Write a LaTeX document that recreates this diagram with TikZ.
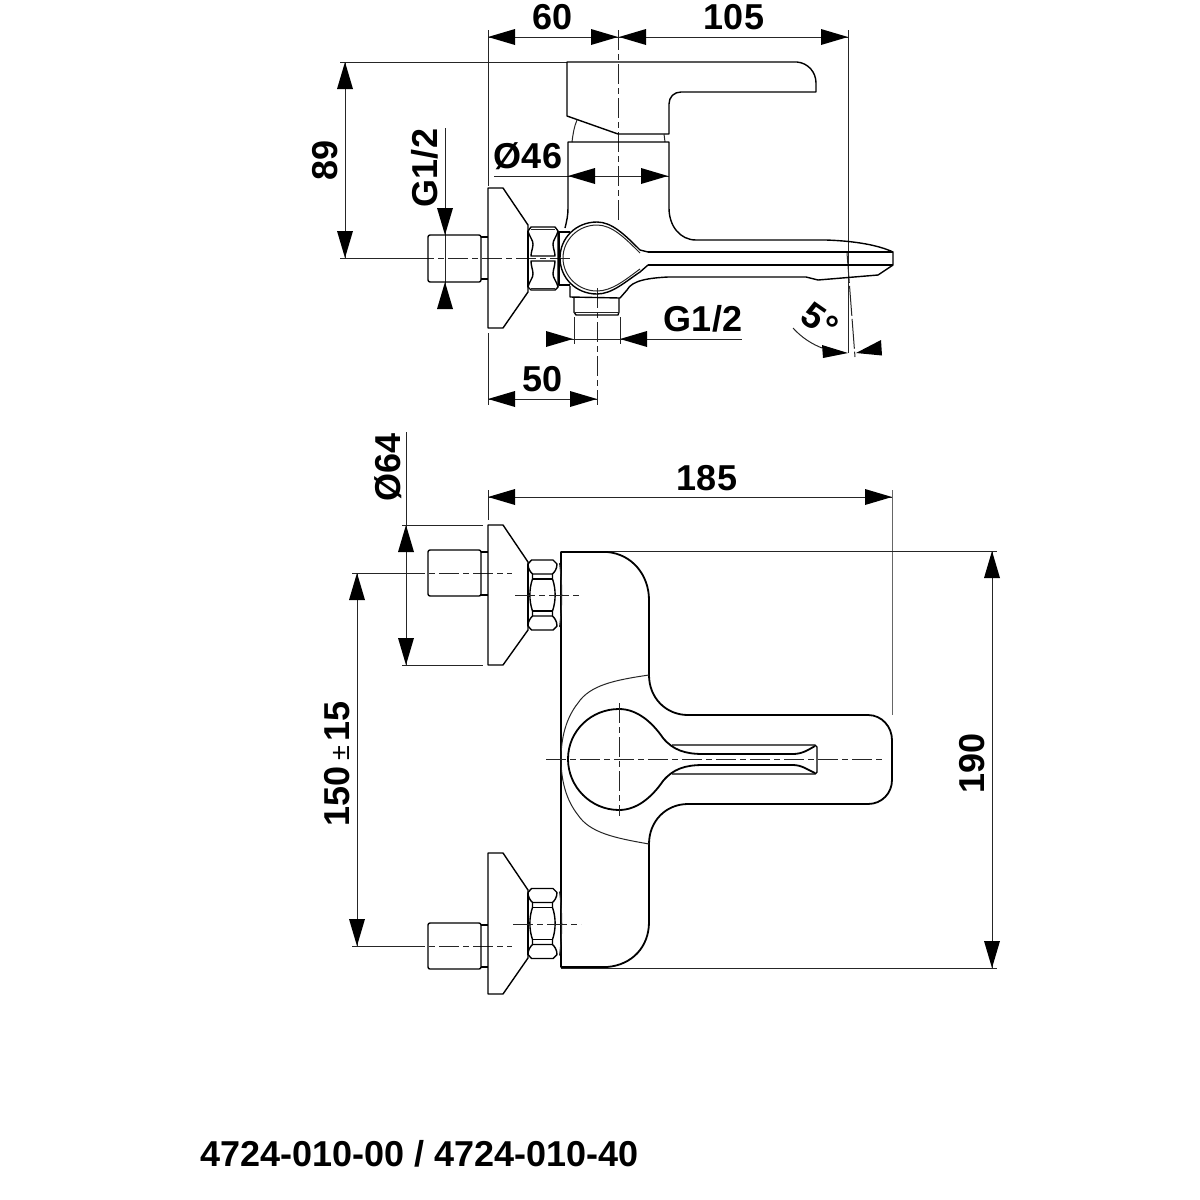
\documentclass[tikz,border=0pt]{standalone}
\usepackage{fontspec}
\setmainfont{Liberation Sans}
\newcommand\harr[3]{\fill (#1,#2) -- ++(#3*27,-8) -- ++(0,16) -- cycle;}
\newcommand\varr[3]{\fill (#1,#2) -- ++(-8,#3*27) -- ++(16,0) -- cycle;}
% nut seen from the front view (three facets): centre x, centre y
\newcommand\nutthree[2]{%
\begin{scope}[shift={(#1,#2)},x=1pt,y=-1pt]
 \draw[outl] (-11,-35) -- (10.5,-35) -- (14.5,-31) .. controls (14.5,-26) and (12,-23) .. (10,-21) -- (-10,-21) .. controls (-12,-23) and (-14.5,-26) .. (-14.5,-31) -- cycle;
 \draw[outl] (-11,35) -- (10.5,35) -- (14.5,31) .. controls (14.5,26) and (12,23) .. (10,21) -- (-10,21) .. controls (-12,23) and (-14.5,26) .. (-14.5,31) -- cycle;
 \draw[outl] (-10,-16) -- (10,-16) (-10,16) -- (10,16);
 \draw[outl] (-10,-21) -- (-10,-16) .. controls (-13.5,-6) and (-13.5,6) .. (-10,16) -- (-10,21);
 \draw[outl] (10,-21) -- (10,-16) .. controls (13.5,-6) and (13.5,6) .. (10,16) -- (10,21);
 \draw[line width=2pt] (-14.5,-31) -- (-14.5,31);
 \draw[thn] (17,-32) .. controls (20,-10) and (20,10) .. (17,32);
\end{scope}}
\tikzset{
 outl/.style={line width=1.4pt,black,line join=round},
 heavy/.style={line width=1.8pt,black,line join=round},
 thn/.style={line width=1pt,black!85},
 cdash/.style={line width=1pt,black!85,dash pattern=on 20pt off 4pt on 6pt off 4pt},
 lbl/.style={inner sep=0pt,font=\fontsize{36}{38}\selectfont\bfseries},
}
\begin{document}
\begin{tikzpicture}[x=1pt,y=-1pt]
\useasboundingbox[fill=white] (0,0) rectangle (1200,1200);

% ===== upper view: dimensions =====
\draw[thn] (488,30) -- (488,186) (488,333) -- (488,405);
\draw[thn] (488,37) -- (848,37);
\harr{488}{37}{1}\harr{618}{37}{-1}\harr{619}{37}{1}\harr{848}{37}{-1}
\node[lbl] (t60) at (553,17) {60};
\node[lbl] (t105) at (734,17) {105};
\draw[thn] (848,30) -- (848,353);
\draw[cdash] (618,30) -- (618,222);
\draw[thn] (340,62) -- (567,62);
\draw[thn] (345,62) -- (345,258);
\varr{345}{62}{1}\varr{345}{258}{-1}
\node[lbl,rotate=90] (t89) at (325,160) {89};
\draw[thn] (340,258) -- (414,258);
\draw[cdash] (414,258) -- (572,258);
\draw[thn] (445,128) -- (445,308);
\varr{445}{235}{-1}\varr{445}{282}{1}
\node[lbl,rotate=90] (tg1) at (425,168) {G1/2};
\node[lbl] (t46) at (528,156) {Ø46};
\draw[thn] (494,176) -- (669,176);
\harr{568}{176}{1}\harr{668}{176}{-1}
\draw[thn] (574,317) -- (574,344) (620,317) -- (620,344);
\draw[thn] (547,339) -- (742,339);
\harr{573}{339}{-1}\harr{620}{339}{1}
\node[lbl] (tg2) at (703,319) {G1/2};
\draw[cdash] (597,288) -- (597,405);
\draw[thn] (488,399) -- (597,399);
\harr{488}{399}{1}\harr{597}{399}{-1}
\node[lbl] (t50) at (543,379) {50};
% 5 degrees
\draw[thn,dash pattern=on 30pt off 3pt] (847,253) -- (855,357);
\draw[thn] (793,328) .. controls (802,338) and (812,344) .. (822,348);
\fill (848,353) -- (822,345) -- (823,358) -- cycle;
\fill (856,353) -- (881,340) -- (882,355.5) -- cycle;
\node[lbl,rotate=-35] (t5) at (820,321) {5\kern1pt°};

% ===== upper view: part =====
% handle
\draw[outl] (567,116) -- (567,62) -- (797,62) .. controls (808,63) and (816,72) .. (816,83)
  -- (816,92) -- (681,92) .. controls (674,92) and (669,97) .. (669,104)
  -- (669,134) -- (618,134) -- cycle;
\draw[thn] (577,120) .. controls (574,127) and (573,134) .. (572,142);
\draw[thn] (664,134) -- (665,142);
% body
\draw[outl] (565,228) .. controls (567,220) and (568,215) .. (568,208) -- (568,142) -- (669,142) -- (669,208)
  .. controls (669,226) and (680,240) .. (696,240) -- (826,240) .. controls (855,241) and (878,245) .. (893,252)
  -- (893,265) -- (878,275) -- (818,280) -- (806,277) -- (668,277)
  .. controls (650,278) and (632,280) .. (627,290) -- (620,298) -- (570,297) -- (570,286);
% teardrop (double outline)
\draw[outl] (648,252) -- (893,252) (648,265) -- (893,265);
\draw[outl] (648,252) -- (640,250) .. controls (625,235) and (612,222) .. (597,222)
  .. controls (576,222) and (560,238) .. (560,258) .. controls (560,278) and (576,294) .. (597,294)
  .. controls (612,294) and (625,282) .. (640,272) -- (648,265);
\draw[thn] (640,253) .. controls (625,238) and (612,225) .. (597,225)
  .. controls (578,225) and (563,240) .. (563,258) .. controls (563,276) and (578,291) .. (597,291)
  .. controls (612,291) and (625,280) .. (640,269);
% stub
\draw[outl] (574,298) -- (574,312) -- (576,315) -- (618,315) -- (619,312) -- (619,298);
\draw[thn] (574,312) -- (619,312);
% collar
\draw[outl] (570,232) -- (559,232) -- (559,285) -- (570,285);
% flange and fitting
\draw[outl] (488,188) -- (503,188) -- (528,225) -- (528,292) -- (503,328) -- (488,328) -- cycle;
\draw[outl] (481,237) -- (488,237) (481,279) -- (488,279);
\draw[outl,rounded corners=2pt] (428,235) rectangle (481,282);
% nut top view
\draw[outl] (531,227) -- (555,227) -- (558,231) -- (558,287) -- (555,290) -- (531,290) -- (528,287) -- (528,231) -- cycle;
\draw[thn] (531,229) -- (555,229) (531,288) -- (555,288);
\draw[outl] (528,231) .. controls (530,238) and (533,240) .. (533,244) .. controls (533,248) and (531,252) .. (531,256) -- (555,256) .. controls (555,252) and (553,248) .. (553,244) .. controls (553,240) and (556,238) .. (558,231);
\draw[outl] (528,287) .. controls (530,280) and (533,278) .. (533,274) .. controls (533,270) and (531,266) .. (531,261) -- (555,261) .. controls (555,266) and (553,270) .. (553,274) .. controls (553,278) and (556,280) .. (558,287);
\draw[line width=2pt] (528,231) -- (528,287);

% ===== lower view: dimensions =====
\draw[thn] (488,490) -- (488,520);
\draw[thn] (488,497) -- (892,497);
\harr{488}{497}{1}\harr{892}{497}{-1}
\node[lbl] (t185) at (707,478) {185};
\draw[line width=1pt,black!60] (892,490) -- (892,715);
\draw[thn] (402,525) -- (483,525) (402,665) -- (483,665);
\draw[thn] (406,432) -- (406,665);
\varr{406}{525}{1}\varr{406}{665}{-1}
\node[lbl,rotate=90] (t64) at (388,467) {Ø64};
\draw[thn] (352,573) -- (405,573);
\draw[cdash] (405,573) -- (512,573);
\draw[thn] (352,946) -- (405,946);
\draw[cdash] (405,946) -- (512,946);
\draw[thn] (357,573) -- (357,946);
\varr{357}{573}{1}\varr{357}{946}{-1}
\node[lbl,rotate=90] (t150) at (337,764) {150\kern6pt{\fontsize{27}{29}\selectfont\mdseries ±}\kern5pt 15};
\draw[thn] (561,551) -- (997,551) (561,968) -- (997,968);
\draw[thn] (992,551) -- (992,968);
\varr{992}{551}{1}\varr{992}{968}{-1}
\node[lbl,rotate=90] (t190) at (972,763) {190};

% ===== lower view: part =====
\draw[heavy] (561,552) -- (607,552) .. controls (632,554) and (649,575) .. (649,600) -- (649,675)
  .. controls (649,698) and (666,715) .. (688,715) -- (868,715) .. controls (882,715) and (892,727) .. (892,740)
  -- (892,780) .. controls (892,793) and (882,804) .. (868,804) -- (688,804)
  .. controls (666,804) and (649,821) .. (649,844) -- (649,922) .. controls (649,947) and (632,965) .. (607,967) -- (561,967) -- cycle;
\draw[thn] (649,675) .. controls (615,680) and (590,685) .. (578,703) .. controls (566,718) and (561,738) .. (561,759)
  .. controls (561,780) and (566,800) .. (578,815) .. controls (590,833) and (615,838) .. (649,844);
% key hole
\draw[heavy] (793,754) -- (703,754) .. controls (685,754) and (673,750) .. (663,738)
  .. controls (652,722) and (637,709) .. (619,709) .. controls (591,709) and (568,731) .. (568,759)
  .. controls (568,787) and (591,810) .. (619,810) .. controls (637,810) and (652,797) .. (663,781)
  .. controls (673,769) and (685,765) .. (703,765) -- (793,765) .. controls (802,765) and (808,770) .. (815,773);
\draw[heavy] (793,754) .. controls (802,754) and (808,750) .. (815,746);
\draw[outl] (672,745) -- (815,745) -- (817,747) -- (817,772) -- (815,774) -- (672,774);
\draw[cdash] (546,759) -- (883,759);
\draw[cdash] (619,703) -- (619,816);

% flanges, fittings, nuts
\draw[outl] (488,525) -- (503,525) -- (528,562) -- (528,630) -- (503,665) -- (488,665) -- cycle;
\draw[outl] (481,552) -- (488,552) (481,595) -- (488,595);
\draw[outl,rounded corners=2pt] (428,550) rectangle (481,596);
\nutthree{542.5}{595}
\draw[cdash] (515,595) -- (580,595);

\draw[outl] (488,853) -- (503,853) -- (528,890) -- (528,958) -- (503,994) -- (488,994) -- cycle;
\draw[outl] (481,925) -- (488,925) (481,967) -- (488,967);
\draw[outl,rounded corners=2pt] (428,923) rectangle (481,969);
\nutthree{542.5}{923.5}
\draw[cdash] (513,924) -- (581,924);

\node[lbl,anchor=west] (tcode) at (200,1154) {4724-010-00 / 4724-010-40};
\end{tikzpicture}
\end{document}
